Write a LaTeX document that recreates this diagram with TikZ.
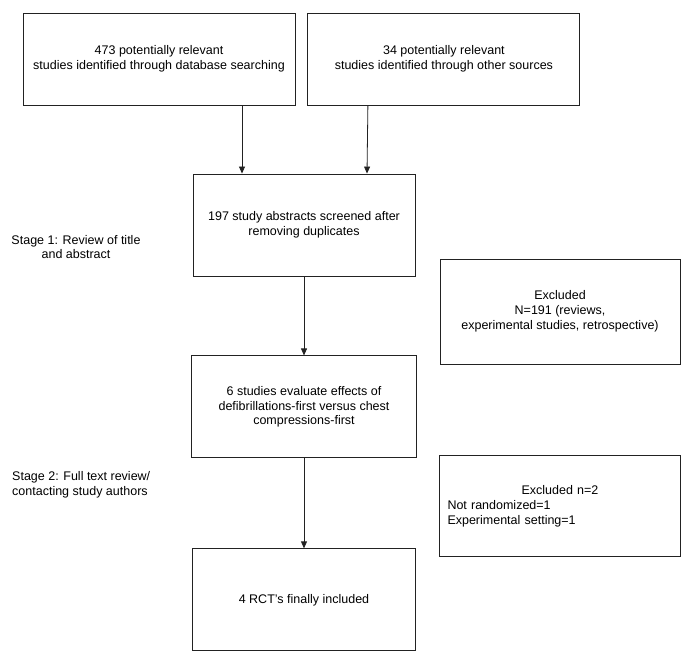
\documentclass[tikz,border=0pt]{standalone}
\usepackage{fontspec}
\setmainfont{Liberation Sans}
\usepackage{tikz}
\usetikzlibrary{arrows.meta,positioning}
\definecolor{linegray}{HTML}{222222}

\begin{document}
\begin{tikzpicture}[
  x=1pt, y=-1pt,
  node distance=12pt and 12pt,
  box/.style={draw=linegray, line width=0.9pt, align=center, inner sep=0pt,
    font=\fontsize{12.5}{14.8}\selectfont},
  lbl/.style={align=center, inner sep=0pt, font=\fontsize{12.5}{14.8}\selectfont},
  arr/.style={-{Triangle[length=7pt, width=6pt]}, draw=linegray, line width=0.8pt},
]
  \useasboundingbox (0,0) rectangle (685,663);

  \node[box, minimum width=272pt, minimum height=92pt] at (159,59) (db)
    {473 potentially relevant\\studies identified through database searching};
  \node[box, minimum width=272pt, minimum height=92pt, right=12pt of db] (other)
    {34 potentially relevant\\studies identified through other sources};
  \node[box, minimum width=222pt, minimum height=102pt] at (304,225) (screen)
    {197 study abstracts screened after\\removing duplicates};
  \node[box, minimum width=225pt, minimum height=102pt, below=79pt of screen] (eval)
    {6 studies evaluate effects of\\defibrillations-first versus chest\\compressions-first};
  \node[box, minimum width=223pt, minimum height=102pt, below=90pt of eval] (incl)
    {4 RCT's finally included};

  \node[box, minimum width=240pt, minimum height=105pt] at (560,311.5) (excl1)
    {Excluded\\N=191 (reviews,\\experimental studies, retrospective)};
  \node[box, minimum width=241pt, minimum height=101pt, text width=225pt, align=left,
    below=91pt of excl1] (excl2)
    {\makebox[225pt]{Excluded n=2}\\Not randomized=1\\Experimental setting=1};

  \node[lbl] at (76,247) (stage1) {Stage 1: Review of title\\and abstract};
  \node[lbl, align=left, anchor=west] at (12,485) (stage2)
    {Stage 2: Full text review/\\contacting study authors};

  \draw[arr] ([xshift=83pt]db.south) -- ([xshift=-62pt]screen.north);
  \draw[arr] ([xshift=-76pt]other.south) -- ([xshift=63pt]screen.north);
  \draw[arr] (screen.south -| eval.north) -- (eval.north);
  \draw[arr] (eval) -- (incl);
\end{tikzpicture}
\end{document}
